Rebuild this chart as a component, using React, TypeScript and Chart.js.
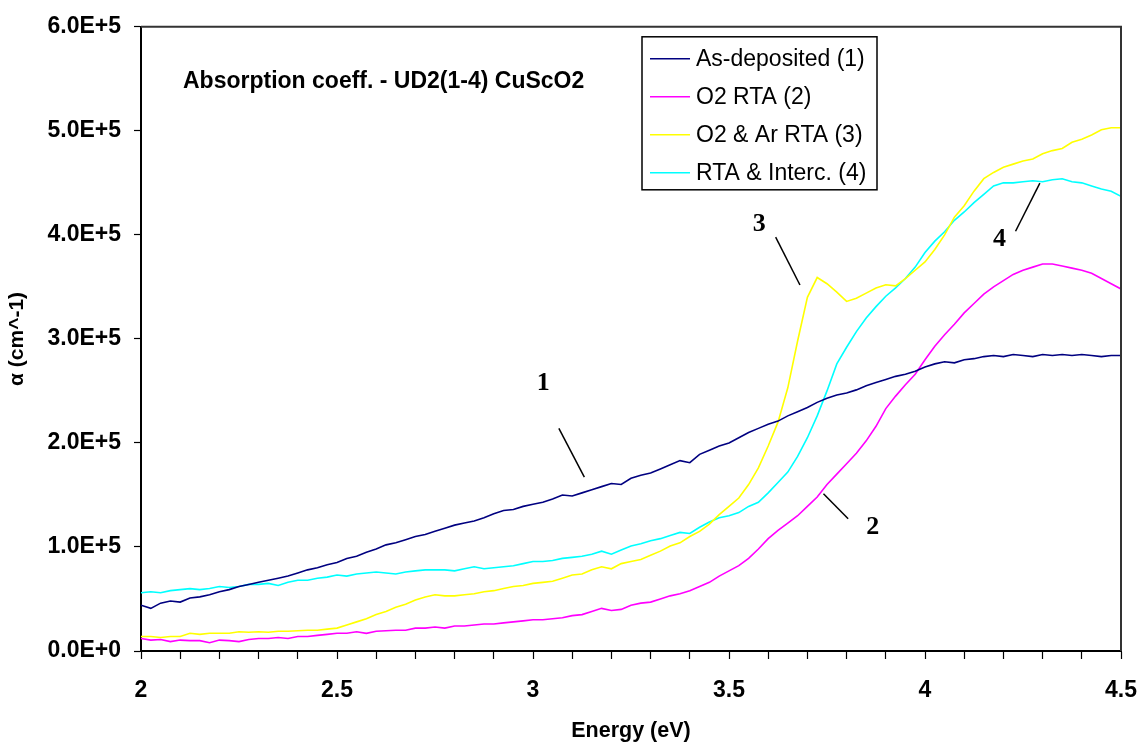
import React, { useEffect, useRef } from "react";
import { Chart, registerables } from "chart.js";

Chart.register(...registerables);

// photon energy (eV)
const energy = [
  2.0, 2.025, 2.05, 2.075, 2.1, 2.125, 2.15, 2.175, 2.2, 2.225,
  2.25, 2.275, 2.3, 2.325, 2.35, 2.375, 2.4, 2.425, 2.45, 2.475,
  2.5, 2.525, 2.55, 2.575, 2.6, 2.625, 2.65, 2.675, 2.7, 2.725,
  2.75, 2.775, 2.8, 2.825, 2.85, 2.875, 2.9, 2.925, 2.95, 2.975,
  3.0, 3.025, 3.05, 3.075, 3.1, 3.125, 3.15, 3.175, 3.2, 3.225,
  3.25, 3.275, 3.3, 3.325, 3.35, 3.375, 3.4, 3.425, 3.45, 3.475,
  3.5, 3.525, 3.55, 3.575, 3.6, 3.625, 3.65, 3.675, 3.7, 3.725,
  3.75, 3.775, 3.8, 3.825, 3.85, 3.875, 3.9, 3.925, 3.95, 3.975,
  4.0, 4.025, 4.05, 4.075, 4.1, 4.125, 4.15, 4.175, 4.2, 4.225,
  4.25, 4.275, 4.3, 4.325, 4.35, 4.375, 4.4, 4.425, 4.45, 4.475,
  4.5,
];

// absorption coefficient (cm^-1)
const asDeposited = [
  44000, 41000, 46000, 48000, 47000, 51000, 52000, 54000, 57000, 59000,
  62000, 64000, 66000, 68000, 70000, 72000, 75000, 78000, 80000, 83000,
  85000, 89000, 91000, 95000, 98000, 102000, 104000, 107000, 110000, 112000,
  115000, 118000, 121000, 123000, 125000, 128000, 132000, 135000, 136000, 139000,
  141000, 143000, 146000, 150000, 149000, 152000, 155000, 158000, 161000, 160000,
  166000, 169000, 171000, 175000, 179000, 183000, 181000, 189000, 193000, 197000,
  200000, 205000, 210000, 214000, 218000, 221000, 226000, 230000, 234000, 239000,
  243000, 246000, 248000, 251000, 255000, 258000, 261000, 264000, 266000, 269000,
  273000, 276000, 278000, 277000, 280000, 281000, 283000, 284000, 283000, 285000,
  284000, 283000, 285000, 284000, 285000, 284000, 285000, 284000, 283000, 284000,
  284000,
];

const o2Rta = [
  12000, 10500, 11000, 9000, 10500, 10000, 10000, 8000, 10500, 10000,
  9000, 11000, 12000, 12000, 13000, 12000, 14000, 14000, 15000, 16000,
  17000, 17000, 18500, 17000, 19000, 19500, 20000, 20000, 22000, 22000,
  23000, 22000, 24000, 24000, 25000, 26000, 26000, 27000, 28000, 29000,
  30000, 30000, 31000, 32000, 34000, 35000, 38000, 41000, 39000, 40000,
  44000, 46000, 47000, 50000, 53000, 55000, 58000, 62000, 66000, 72000,
  77000, 82000, 89000, 98000, 108000, 116000, 123000, 130000, 139000, 148000,
  160000, 170000, 180000, 190000, 202000, 216000, 233000, 245000, 256000, 266000,
  280000, 293000, 304000, 314000, 325000, 334000, 343000, 350000, 356000, 362000,
  366000, 369000, 372000, 372000, 370000, 368000, 366000, 363000, 358000, 353000,
  348000,
];

const o2ArRta = [
  14000, 14000, 13000, 14000, 14000, 17000, 16000, 17000, 17000, 17000,
  18500, 18000, 18500, 18000, 19000, 19000, 19500, 20000, 20000, 21000,
  22000, 25000, 28000, 31000, 35000, 38000, 42000, 45000, 49000, 52000,
  54000, 53000, 53000, 54000, 55000, 57000, 58000, 60000, 62000, 63000,
  65000, 66000, 67000, 70000, 73000, 74000, 78000, 81000, 79000, 84000,
  86000, 88000, 92000, 96000, 101000, 104000, 110000, 115000, 122000, 131000,
  139000, 147000, 160000, 176000, 197000, 220000, 253000, 298000, 340000, 359000,
  353000, 345000, 336000, 339000, 344000, 349000, 352000, 351000, 358000, 366000,
  374000, 386000, 400000, 417000, 428000, 442000, 454000, 460000, 465000, 468000,
  471000, 473000, 478000, 481000, 483000, 489000, 492000, 496000, 501000, 503000,
  503000,
];

const rtaInterc = [
  56000, 57000, 56000, 58000, 59000, 60000, 59000, 60000, 62000, 61000,
  62000, 64000, 64000, 65000, 63000, 66000, 68000, 68000, 70000, 71000,
  73000, 72000, 74000, 75000, 76000, 75000, 74000, 76000, 77000, 78000,
  78000, 78000, 77000, 79000, 81000, 79000, 80000, 81000, 82000, 84000,
  86000, 86000, 87000, 89000, 90000, 91000, 93000, 96000, 93000, 97000,
  101000, 103000, 106000, 108000, 111000, 114000, 113000, 119000, 124000, 128000,
  130000, 133000, 139000, 143000, 152000, 162000, 172000, 187000, 205000, 226000,
  250000, 276000, 292000, 307000, 320000, 331000, 341000, 349000, 358000, 369000,
  383000, 394000, 403000, 414000, 422000, 431000, 439000, 447000, 450000, 450000,
  451000, 452000, 451000, 453000, 454000, 451000, 450000, 447000, 444000, 442000,
  437000,
];

const seriesNames = ["As-deposited (1)", "O2 RTA (2)", "O2 & Ar RTA (3)", "RTA & Interc. (4)"];
const seriesColors = ["#000080", "#FF00FF", "#FFFF00", "#00FFFF"];
const seriesValues = [asDeposited, o2Rta, o2ArRta, rtaInterc];

const chartTitle = "Absorption coeff. - UD2(1-4) CuScO2";
const xTitle = "Energy (eV)";
const yTitle = "α (cm^-1)";

// curve labels: [text, labelX, labelY, lineX1, lineY1, lineX2, lineY2] in data units
const curveLabels: [string, number, number, number, number, number, number][] = [
  ["1", 3.026, 257200, 3.066, 214000, 3.131, 167100],
  ["2", 3.867, 119100, 3.741, 151200, 3.804, 127200],
  ["3", 3.577, 409900, 3.619, 397800, 3.681, 351800],
  ["4", 4.19, 396100, 4.231, 403500, 4.293, 449800],
];

const overlayPlugin = {
  id: "overlay",
  afterDatasetsDraw(chart: any) {
    const { ctx, chartArea, scales } = chart;
    const xs = scales.x;
    const ys = scales.y;
    ctx.save();
    // top and right frame
    ctx.strokeStyle = "#333333";
    ctx.lineWidth = 2;
    ctx.beginPath();
    ctx.moveTo(chartArea.left, chartArea.top);
    ctx.lineTo(chartArea.right, chartArea.top);
    ctx.lineTo(chartArea.right, chartArea.bottom);
    ctx.stroke();

    // chart title
    ctx.fillStyle = "#000";
    ctx.font = "bold 23px 'Liberation Sans', Arial, sans-serif";
    ctx.textAlign = "left";
    ctx.textBaseline = "alphabetic";
    ctx.fillText(chartTitle, chartArea.left + 42, chartArea.top + 61);

    // legend
    const lx = chartArea.left + 501;
    const ly = chartArea.top + 10;
    const lw = 235;
    const lh = 153;
    ctx.fillStyle = "#fff";
    ctx.fillRect(lx, ly, lw, lh);
    ctx.strokeStyle = "#000";
    ctx.lineWidth = 1.5;
    ctx.strokeRect(lx, ly, lw, lh);
    ctx.font = "23px 'Liberation Sans', Arial, sans-serif";
    ctx.textBaseline = "middle";
    seriesNames.forEach((name, i) => {
      const cy = ly + 22 + i * 38;
      ctx.strokeStyle = seriesColors[i];
      ctx.lineWidth = 1.5;
      ctx.beginPath();
      ctx.moveTo(lx + 8, cy);
      ctx.lineTo(lx + 48, cy);
      ctx.stroke();
      ctx.fillStyle = "#000";
      ctx.fillText(name, lx + 54, cy + 1);
    });

    // curve labels
    ctx.font = "bold 26px 'Liberation Serif', 'Times New Roman', serif";
    ctx.textAlign = "center";
    ctx.textBaseline = "middle";
    ctx.strokeStyle = "#000";
    ctx.lineWidth = 1.5;
    curveLabels.forEach(([t, tx, ty, x1, y1, x2, y2]) => {
      ctx.fillStyle = "#000";
      ctx.fillText(t, xs.getPixelForValue(tx), ys.getPixelForValue(ty));
      ctx.beginPath();
      ctx.moveTo(xs.getPixelForValue(x1), ys.getPixelForValue(y1));
      ctx.lineTo(xs.getPixelForValue(x2), ys.getPixelForValue(y2));
      ctx.stroke();
    });
    ctx.restore();
  },
};

const bgPlugin = {
  id: "bg",
  beforeDraw(chart: any) {
    const { ctx, width, height } = chart;
    ctx.save();
    ctx.fillStyle = "#fff";
    ctx.fillRect(0, 0, width, height);
    ctx.restore();
  },
};

export default function App() {
  const ref = useRef<HTMLCanvasElement | null>(null);
  useEffect(() => {
    if (!ref.current) return;
    const chart = new Chart(ref.current, {
      type: "line",
      data: {
        datasets: seriesValues.map((vals, i) => ({
          label: seriesNames[i],
          data: vals.map((v, j) => ({ x: energy[j], y: v })),
          borderColor: seriesColors[i],
          backgroundColor: seriesColors[i],
          borderWidth: 1.6,
          pointRadius: 0,
          tension: 0,
          fill: false,
        })),
      },
      options: {
        responsive: false,
        animation: false,
        layout: { padding: { top: 25, right: 20, left: 0, bottom: 0 } },
        plugins: {
          legend: { display: false },
          tooltip: { enabled: false },
          title: { display: false },
        },
        scales: {
          x: {
            type: "linear",
            min: 2,
            max: 4.5,
            afterFit: (s: any) => {
              s.height = 93;
              s.paddingLeft = 0;
              s.paddingRight = 0;
            },
            border: { display: true, color: "#000", width: 2 },
            grid: {
              display: true,
              drawOnChartArea: false,
              drawTicks: true,
              tickLength: 8,
              tickColor: "#000",
              tickWidth: 1.2,
            },
            ticks: {
              stepSize: 0.1,
              autoSkip: false,
              maxRotation: 0,
              padding: 18,
              color: "#000",
              font: { family: "'Liberation Sans', Arial, sans-serif", size: 23, weight: "bold" },
              callback: (v: any) => {
                const n = Number(v);
                const r = Math.round(n * 2) / 2;
                if (Math.abs(n - r) > 1e-6) return "";
                return String(r);
              },
            },
            title: {
              display: true,
              text: xTitle,
              color: "#000",
              padding: 0,
              font: { family: "'Liberation Sans', Arial, sans-serif", size: 21.5, weight: "bold" },
            },
          },
          y: {
            type: "linear",
            min: 0,
            max: 600000,
            afterFit: (s: any) => {
              s.width = 141;
            },
            border: { display: true, color: "#000", width: 2 },
            grid: {
              display: true,
              drawOnChartArea: false,
              drawTicks: true,
              tickLength: 7,
              tickColor: "#000",
              tickWidth: 1.2,
            },
            ticks: {
              stepSize: 100000,
              padding: 13,
              color: "#000",
              font: { family: "'Liberation Sans', Arial, sans-serif", size: 23, weight: "bold" },
              callback: (v: any) => {
                const n = Number(v);
                if (n === 0) return "0.0E+0";
                return (n / 100000).toFixed(1) + "E+5";
              },
            },
            title: {
              display: true,
              text: yTitle,
              color: "#000",
              padding: 5,
              font: { family: "'Liberation Sans', Arial, sans-serif", size: 21, weight: "bold" },
            },
          },
        },
      },
      plugins: [bgPlugin, overlayPlugin],
    });
    return () => chart.destroy();
  }, []);
  return (
    <div style={{ position: "fixed", left: 0, top: 0, width: 1141, height: 744 }}>
      <canvas ref={ref} width={1141} height={744} style={{ display: "block" }} />
    </div>
  );
}
